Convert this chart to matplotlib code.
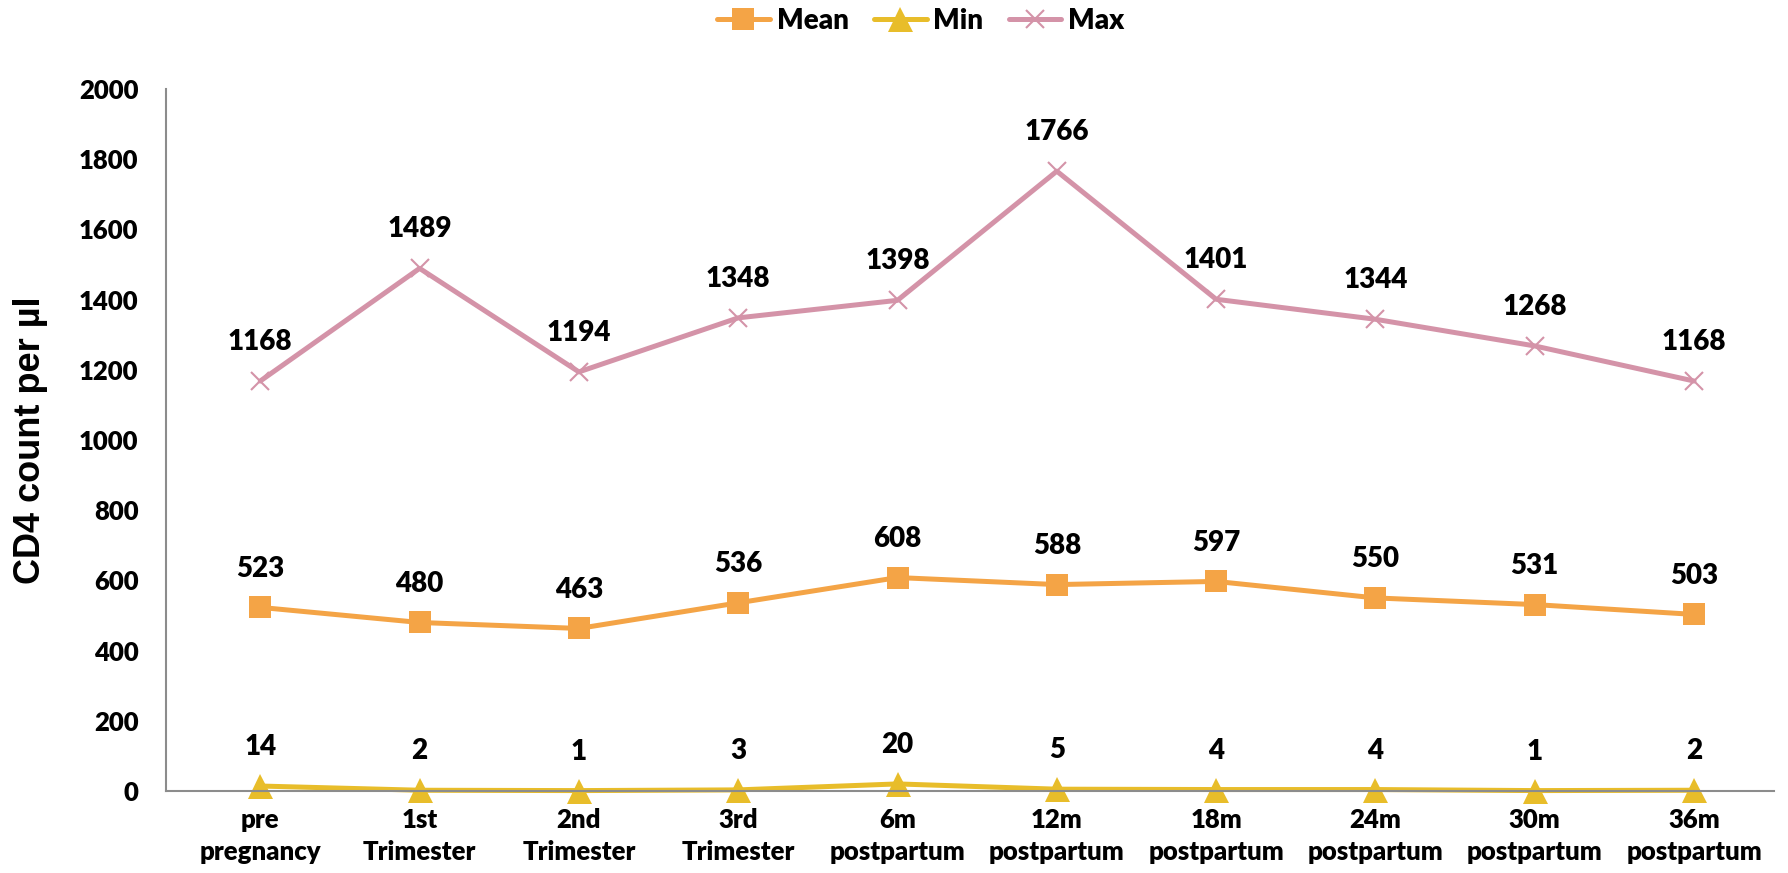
import matplotlib
matplotlib.use("Agg")
import matplotlib.pyplot as plt

categories = ["pre\npregnancy", "1st\nTrimester", "2nd\nTrimester", "3rd\nTrimester",
              "6m\npostpartum", "12m\npostpartum", "18m\npostpartum", "24m\npostpartum",
              "30m\npostpartum", "36m\npostpartum"]
mean_vals = [523, 480, 463, 536, 608, 588, 597, 550, 531, 503]
min_vals = [14, 2, 1, 3, 20, 5, 4, 4, 1, 2]
max_vals = [1168, 1489, 1194, 1348, 1398, 1766, 1401, 1344, 1268, 1168]
yticks = [0, 200, 400, 600, 800, 1000, 1200, 1400, 1600, 1800, 2000]

plt.rcParams['font.family'] = ['Lato', 'DejaVu Sans']
plt.rcParams['font.weight'] = 'heavy'
W = 'heavy'

fig = plt.figure(figsize=(17.88, 8.73), dpi=100)
ax = fig.add_axes([0.093, 0.094, 0.899, 0.804])

x = list(range(len(categories)))
series = [
    ("Mean", mean_vals, "#F4A446", "s", 16),
    ("Min", min_vals, "#E8BD2A", "^", 18),
    ("Max", max_vals, "#D493A8", "x", 13),
]
for name, vals, col, mk, ms in series:
    ax.plot(x, vals, color=col, lw=3.6, marker=mk, ms=ms, mew=1.5 if mk == "x" else 0,
            markeredgecolor=col, markerfacecolor=col, label=name,
            solid_capstyle='round', clip_on=False)
    for xi, v in zip(x, vals):
        ax.annotate(str(v), (xi, v), xytext=(0, 28), textcoords='offset points',
                    ha='center', va='center', fontsize=20, fontweight=W)

ax.set_xlim(-0.59, 9.5)
ax.set_ylim(0, 2000)
ax.set_yticks(yticks)
ax.set_xticks(x)
ax.set_xticklabels(categories, fontsize=18.5, fontweight=W, linespacing=1.4)
ax.tick_params(axis='y', labelsize=18.5, length=0, pad=20)
ax.tick_params(axis='x', length=0, pad=12)
for s in ['top', 'right']:
    ax.spines[s].set_visible(False)
for s in ['left', 'bottom']:
    ax.spines[s].set_color('#8c8c8c')
    ax.spines[s].set_linewidth(1.5)

ax.set_ylabel("CD4 count per µl", fontsize=26, fontweight='bold',
              family=['Liberation Sans'], labelpad=22)

fig.legend(loc='upper center', bbox_to_anchor=(0.515, 1.02), ncol=3, frameon=False,
           handlelength=1.9, columnspacing=0.9, handletextpad=0.25,
           prop={'weight': W, 'size': 20})

fig.savefig("out.png", dpi=100)
